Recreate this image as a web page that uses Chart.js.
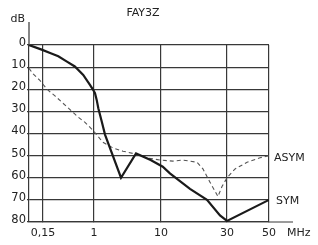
<!DOCTYPE html>
<html>
<head>
<meta charset="utf-8">
<script src="https://cdn.jsdelivr.net/npm/chart.js@4/dist/chart.umd.min.js"></script>
<style>
  html, body { margin: 0; padding: 0; background: #fff; }
</style>
</head>
<body>
<canvas id="grafico" width="318" height="245"></canvas>
<script>
// ---- DADOS (MHz / dB) ----
const titulo = "FAY3Z";

const symFreq = [0.09, 0.143, 0.2, 0.265, 0.36, 0.49, 0.67, 0.86, 0.946, 1.035, 1.097, 1.16, 1.316, 1.46, 2.53, 4.24, 7, 10.3, 11.6, 16.2, 21.5, 26.7, 30, 50];
const symDb   = [0, 2.1, 3.7, 5.1, 7.4, 9.7, 13.5, 18, 19.8, 21.8, 24.8, 28.6, 35, 40.5, 60, 49, 52, 55, 58, 65, 70, 77, 79.5, 70];

const asymFreq = [0.09, 0.104, 0.134, 0.174, 0.234, 0.367, 0.55, 0.716, 0.96, 1.36, 1.92, 2.71, 3.82, 6.18, 9.66, 12.2, 14.4, 18.2, 20.1, 22.6, 25.8, 27.6, 30, 33.1, 38.3, 44.8, 50];
const asymDb   = [10.5, 13, 16, 20, 23, 28, 32.5, 35, 38.5, 44, 46.5, 48, 49, 51, 52, 52.5, 52, 53, 56, 62, 68.5, 64, 60, 56, 53, 51, 50];

const xTicks  = [0.15, 1, 10, 30, 50];
const xLabels = ["0,15", "1", "10", "30", "50"];
const yTicks  = [0, 10, 20, 30, 40, 50, 60, 70, 80];

// ---- EIXO X (escala log irregular do original) ----
const eixoFreq = [0.09, 0.15, 1, 10, 30, 50];
const eixoPos  = [0, 14, 65, 132, 198, 240];

function warp(f) {
  for (let i = 1; i < eixoFreq.length; i++) {
    if (f <= eixoFreq[i] || i === eixoFreq.length - 1) {
      const t = Math.log(f / eixoFreq[i - 1]) / Math.log(eixoFreq[i] / eixoFreq[i - 1]);
      return eixoPos[i - 1] + t * (eixoPos[i] - eixoPos[i - 1]);
    }
  }
}

const FONTE = "'DejaVu Sans', sans-serif";
const COR_GRADE = "#383838";
const COR_TEXTO = "#222";

const extras = {
  id: "extras",
  afterDraw(chart) {
    const { ctx, chartArea: a, scales: { y } } = chart;
    ctx.save();
    ctx.strokeStyle = COR_GRADE;
    ctx.lineWidth = 1.2;
    ctx.beginPath();
    ctx.moveTo(a.left, a.top);
    ctx.lineTo(a.left, a.top - 23);
    ctx.moveTo(a.right, a.bottom);
    ctx.lineTo(a.right + 24, a.bottom);
    ctx.stroke();

    ctx.fillStyle = COR_TEXTO;
    ctx.font = "11px " + FONTE;
    ctx.textBaseline = "middle";
    ctx.textAlign = "center";
    ctx.fillText(titulo, 143, 13);
    ctx.textAlign = "right";
    ctx.fillText("dB", a.left - 4, 19);
    ctx.textAlign = "left";
    ctx.fillText("MHz", a.right + 18, 233);
    ctx.fillText("ASYM", a.right + 5, y.getPixelForValue(asymDb[asymDb.length - 1]) + 3);
    ctx.fillText("SYM", a.right + 7, y.getPixelForValue(symDb[symDb.length - 1]) + 1);
    ctx.restore();
  }
};

new Chart(document.getElementById("grafico"), {
  type: "line",
  data: {
    datasets: [{
      label: "SYM",
      data: symFreq.map((f, i) => ({ x: warp(f), y: symDb[i] })),
      borderColor: "#1a1a1a",
      borderWidth: 2.2,
      pointRadius: 0,
      tension: 0
    }, {
      label: "ASYM",
      data: asymFreq.map((f, i) => ({ x: warp(f), y: asymDb[i] })),
      borderColor: "#555",
      borderWidth: 1.1,
      borderDash: [4, 3],
      pointRadius: 0,
      tension: 0
    }]
  },
  options: {
    responsive: false,
    animation: false,
    devicePixelRatio: 1,
    layout: { padding: { top: 45, right: 49, left: 0, bottom: 0 } },
    plugins: { legend: { display: false }, tooltip: { enabled: false } },
    scales: {
      x: {
        type: "linear",
        min: 0,
        max: warp(50),
        afterBuildTicks: s => { s.ticks = xTicks.map(f => ({ value: warp(f) })); },
        afterFit: s => { s.height = 23; },
        ticks: {
          autoSkip: false,
          maxRotation: 0,
          padding: 5,
          color: COR_TEXTO,
          font: { family: FONTE, size: 11 },
          callback: (v, i) => xLabels[i]
        },
        grid: { color: COR_GRADE, lineWidth: 1.2, tickLength: 0 },
        border: { color: COR_GRADE, width: 1.2 }
      },
      y: {
        min: 0,
        max: 80,
        reverse: true,
        afterBuildTicks: s => { s.ticks = yTicks.map(v => ({ value: v })); },
        afterFit: s => { s.width = 29; },
        ticks: {
          padding: 1,
          labelOffset: -2,
          color: COR_TEXTO,
          font: { family: FONTE, size: 11.5 }
        },
        grid: { color: COR_GRADE, lineWidth: 1.2, tickLength: 2 },
        border: { color: COR_GRADE, width: 1.2 }
      }
    }
  },
  plugins: [extras]
});
</script>
</body>
</html>
